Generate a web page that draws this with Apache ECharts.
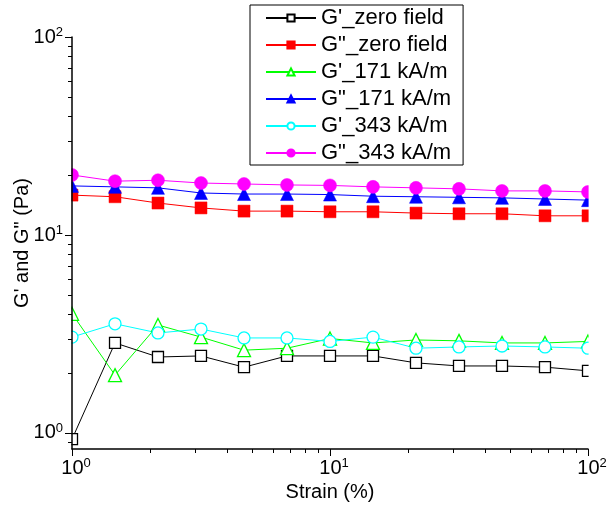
<!DOCTYPE html>
<html>
<head>
<meta charset="utf-8">
<script src="https://cdn.jsdelivr.net/npm/echarts@6/dist/echarts.min.js"></script>
<style>
html,body{margin:0;padding:0;background:#fff;}
#chart{width:608px;height:507px;}
</style>
</head>
<body>
<div id="chart"></div>
<script>
// ---- data ----
const strain = [1, 1.468, 2.154, 3.162, 4.642, 6.813, 10, 14.68, 21.54, 31.62, 46.42, 68.13, 100];
const gpZero   = [0.93, 2.85, 2.42, 2.45, 2.15, 2.45, 2.45, 2.45, 2.26, 2.18, 2.18, 2.15, 2.06];
const gppZero  = [15.9, 15.6, 14.5, 13.7, 13.2, 13.2, 13.1, 13.1, 12.9, 12.8, 12.8, 12.5, 12.5];
const gp171    = [4.0, 1.96, 3.51, 3.05, 2.62, 2.68, 3.0, 2.85, 2.95, 2.92, 2.85, 2.85, 2.9];
const gpp171   = [17.7, 17.5, 17.3, 16.3, 16.1, 16.1, 16.0, 15.7, 15.6, 15.5, 15.4, 15.2, 15.0];
const gp343    = [3.05, 3.56, 3.2, 3.35, 3.02, 3.02, 2.9, 3.05, 2.68, 2.72, 2.75, 2.72, 2.68];
const gpp343   = [20.1, 18.7, 18.9, 18.3, 18.1, 17.9, 17.8, 17.5, 17.3, 17.1, 16.7, 16.7, 16.5];
const seriesNames = ["G'_zero field", 'G"_zero field', "G'_171 kA/m", 'G"_171 kA/m', "G'_343 kA/m", 'G"_343 kA/m'];
const xMin = 1, xMax = 100, yMin = 0.83, yMax = 100;
const xMinorTicks = [2,3,4,5,6,7,8,9,20,30,40,50,60,70,80,90];
const yMajorTicks = [1, 10, 100];
const yMinorTicks = [0.9,2,3,4,5,6,7,8,9,20,30,40,50,60,70,80,90];
const xTitle = 'Strain (%)';
const yTitle = 'G\' and G" (Pa)';

const FONT = "'Liberation Sans', Arial, sans-serif";
const chart = echarts.init(document.getElementById('chart'), null, {renderer: 'canvas'});

function powLabel(v) {
  const e = Math.log10(v);
  if (Math.abs(e - Math.round(e)) > 1e-6) return '';
  return '{b|10}{s|' + Math.round(e) + '}';
}
const richLbl = {
  b: {fontSize: 20, fontFamily: FONT, color: '#000', lineHeight: 22},
  s: {fontSize: 13, fontFamily: FONT, color: '#000', verticalAlign: 'top', lineHeight: 13}
};

function mk(name, data, symbol, color, filled, size) {
  return {
    name: name, type: 'line', z: 2,
    data: strain.map((x, i) => [x, data[i]]),
    symbol: symbol, symbolSize: size,
    clip: false,
    lineStyle: {color: color, width: 1},
    itemStyle: {color: filled ? color : '#fff', borderColor: color, borderWidth: filled ? 0.5 : 1.3}
  };
}

const option = {
  animation: false,
  backgroundColor: '#fff',
  textStyle: {fontFamily: FONT},
  grid: {left: 72, right: 20, top: 37, bottom: 58, outerBoundsMode: 'none', containLabel: false},
  legend: {
    orient: 'vertical', left: 250, top: 5,
    borderColor: '#000', borderWidth: 1,
    padding: [2, 12, 1, 15],
    itemWidth: 50, itemHeight: 9, itemGap: 5,
    selectedMode: false,
    textStyle: {fontSize: 22, fontFamily: FONT, color: '#000'},
    data: seriesNames
  },
  xAxis: {
    type: 'log', logBase: 10, min: xMin, max: xMax, z: 10,
    axisLine: {lineStyle: {color: '#000', width: 1.5}},
    axisTick: {length: 7, lineStyle: {color: '#000', width: 1}},
    splitLine: {show: false},
    axisLabel: {formatter: powLabel, rich: richLbl, margin: 8, padding: [0, 0, 0, 8]},
    name: xTitle, nameLocation: 'middle', nameGap: 33, nameMoveOverlap: false,
    nameTextStyle: {fontSize: 20, fontFamily: FONT, color: '#000'}
  },
  yAxis: {
    type: 'log', logBase: 10, min: yMin, max: yMax, z: 10,
    axisLine: {lineStyle: {color: '#000', width: 1.5}},
    axisTick: {show: false},
    splitLine: {show: false},
    axisLabel: {formatter: powLabel, rich: richLbl, margin: 9},
    name: yTitle, nameLocation: 'middle', nameGap: 40, nameMoveOverlap: false,
    nameTextStyle: {fontSize: 20, fontFamily: FONT, color: '#000'}
  },
  series: [
    mk(seriesNames[0], gpZero, 'rect', '#000000', false, 11),
    mk(seriesNames[1], gppZero, 'rect', '#ff0000', true, 12),
    mk(seriesNames[2], gp171, 'triangle', '#00ff00', false, 13),
    mk(seriesNames[3], gpp171, 'triangle', '#0000ff', true, 13),
    mk(seriesNames[4], gp343, 'circle', '#00ffff', false, 12),
    mk(seriesNames[5], gpp343, 'circle', '#ff00ff', true, 13)
  ]
};
chart.setOption(option);

// ticks (log minor ticks) and clipping of markers at plot edges, placed via the axes' own scales
const W = 608, H = 507;
const x0 = chart.convertToPixel({xAxisIndex: 0}, xMin);
const x1 = chart.convertToPixel({xAxisIndex: 0}, xMax);
const yb = chart.convertToPixel({yAxisIndex: 0}, yMin);
const yt = chart.convertToPixel({yAxisIndex: 0}, yMax);
const g = [];
const white = {fill: '#fff'};
g.push({type: 'rect', z: 3, silent: true, shape: {x: 0, y: 0, width: x0 - 0.6, height: H}, style: white});
g.push({type: 'rect', z: 3, silent: true, shape: {x: x1 + 0.6, y: 0, width: W - x1, height: H}, style: white});
g.push({type: 'rect', z: 3, silent: true, shape: {x: 0, y: yb + 0.6, width: W, height: H - yb}, style: white});
const tk = {stroke: '#000', lineWidth: 1};
xMinorTicks.forEach(v => {
  const px = Math.round(chart.convertToPixel({xAxisIndex: 0}, v)) + 0.5;
  g.push({type: 'line', z: 12, silent: true, shape: {x1: px, y1: yb, x2: px, y2: yb + 4}, style: tk});
});
yMajorTicks.forEach(v => {
  const py = Math.round(chart.convertToPixel({yAxisIndex: 0}, v)) + 0.5;
  g.push({type: 'line', z: 12, silent: true, shape: {x1: x0 - 7, y1: py, x2: x0, y2: py}, style: tk});
});
yMinorTicks.forEach(v => {
  const py = Math.round(chart.convertToPixel({yAxisIndex: 0}, v)) + 0.5;
  g.push({type: 'line', z: 12, silent: true, shape: {x1: x0 - 4, y1: py, x2: x0, y2: py}, style: tk});
});
chart.setOption({graphic: g});
</script>
</body>
</html>
